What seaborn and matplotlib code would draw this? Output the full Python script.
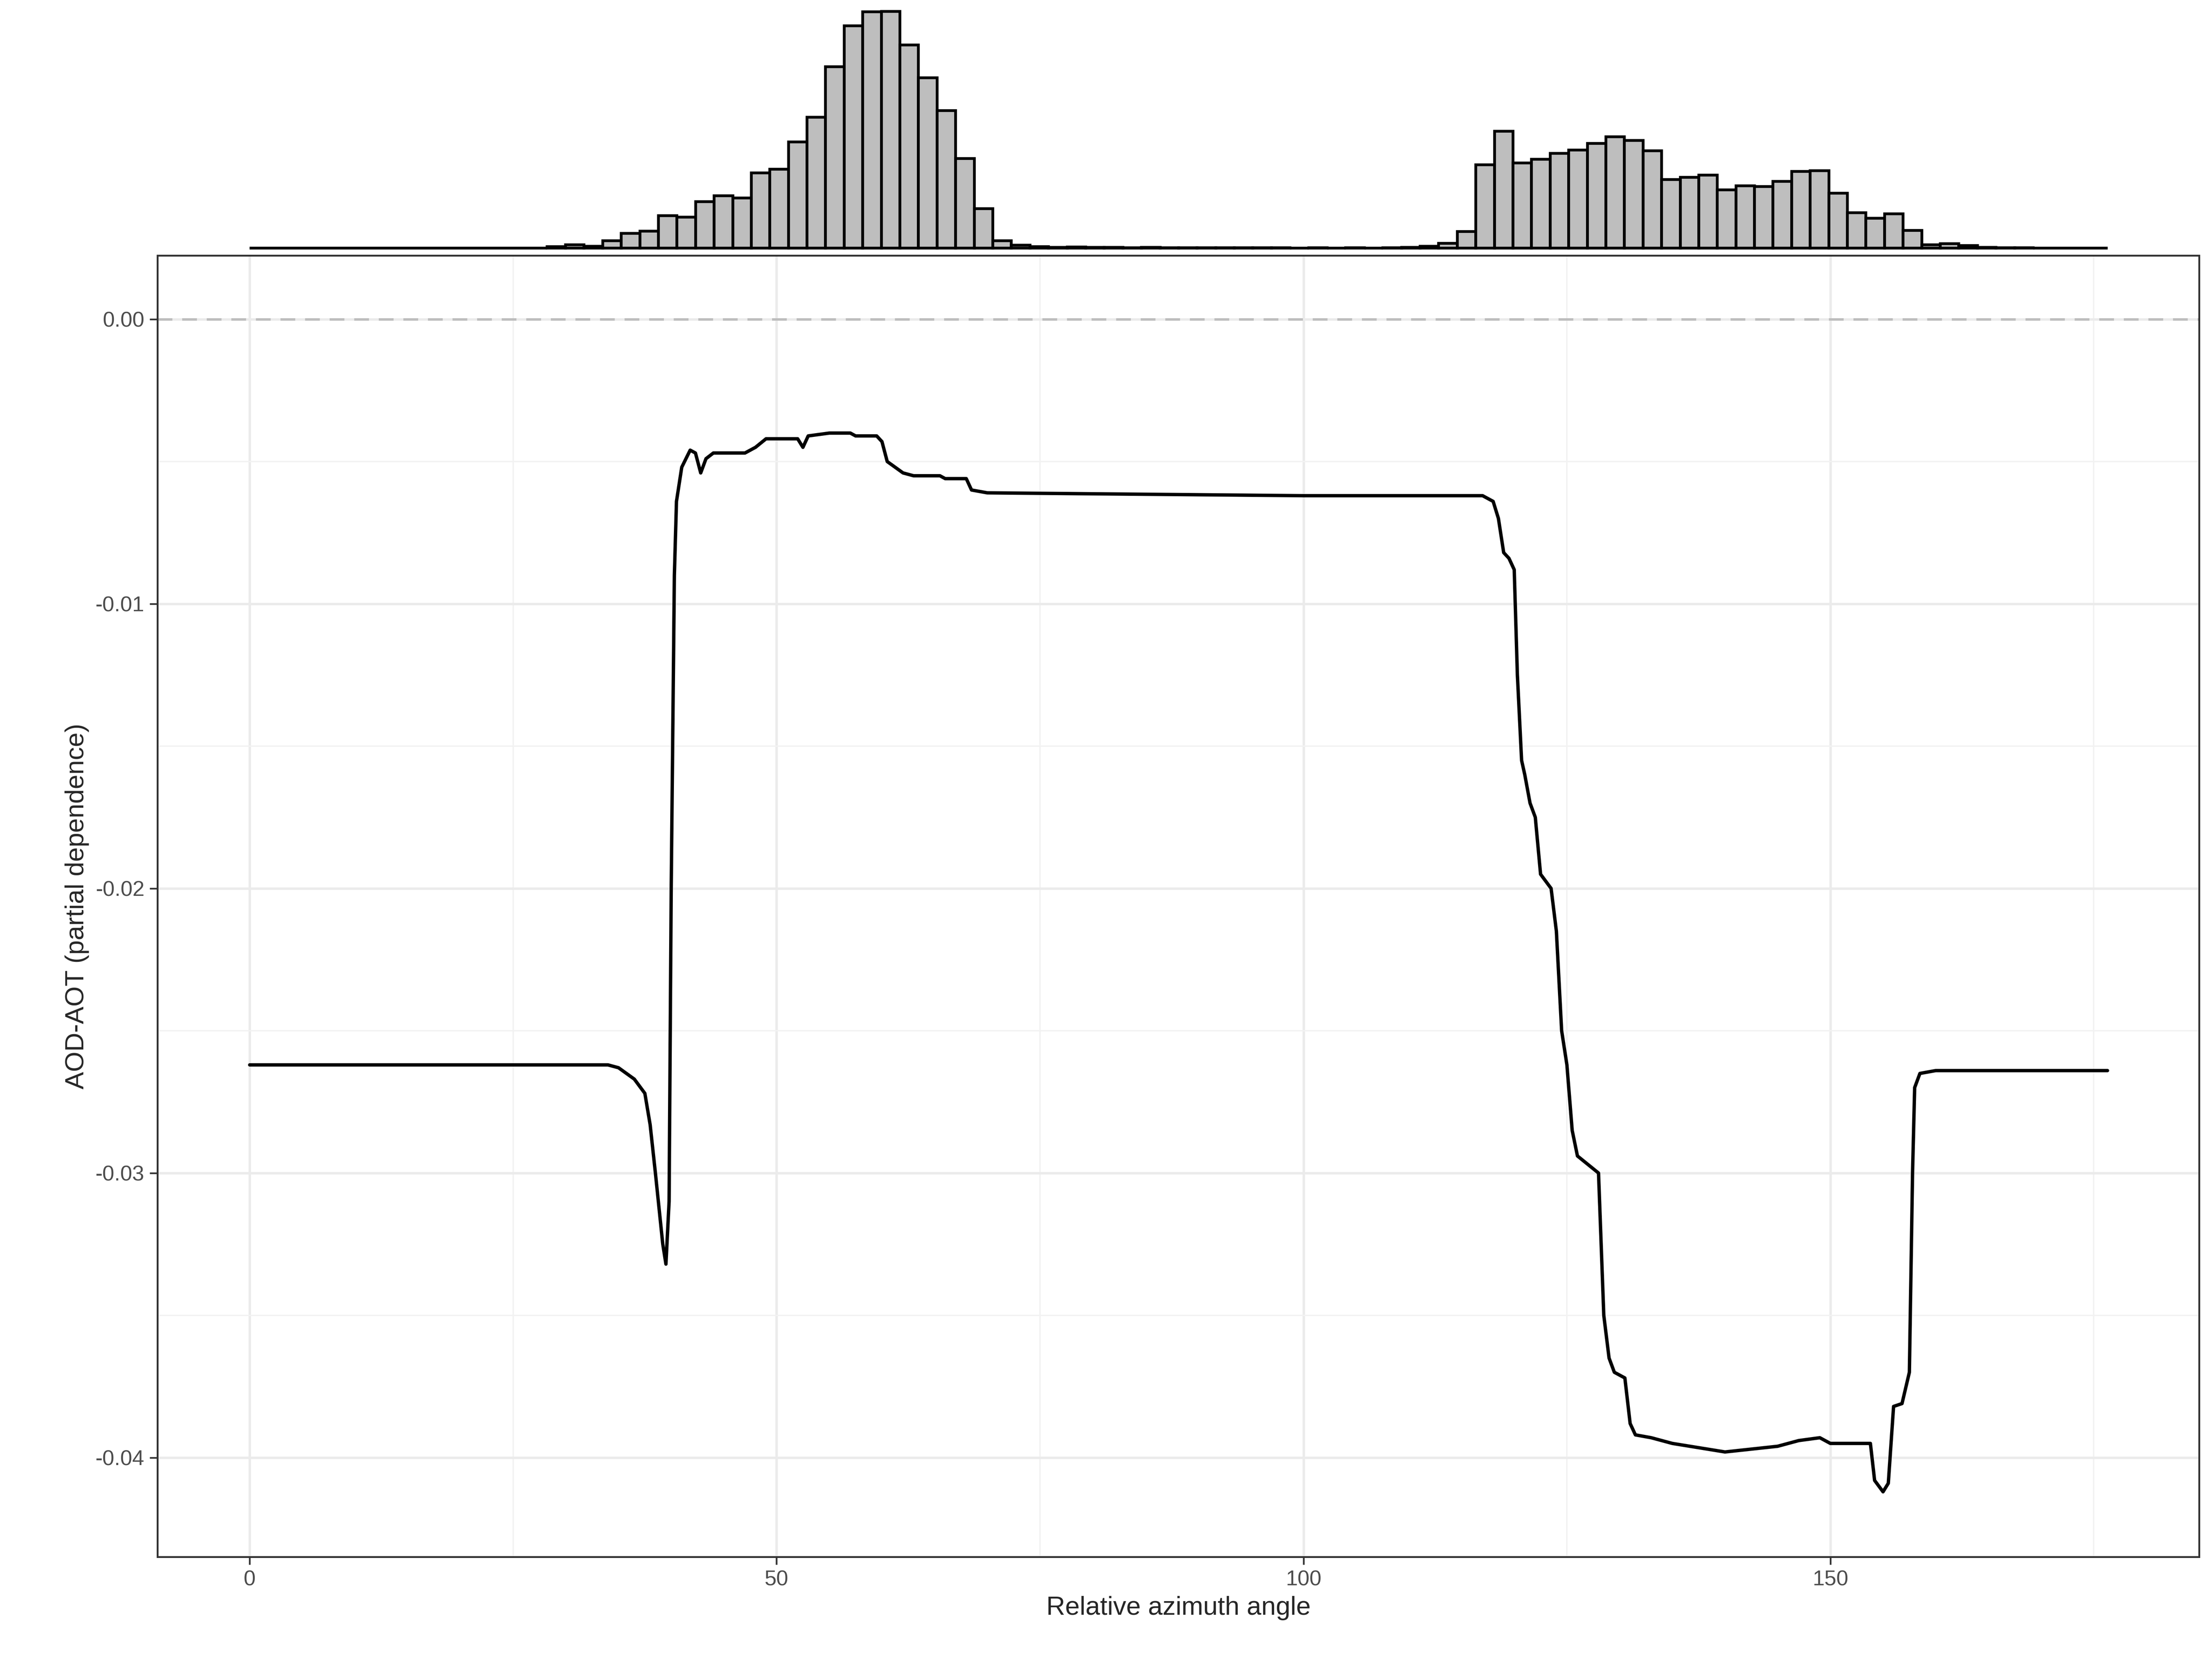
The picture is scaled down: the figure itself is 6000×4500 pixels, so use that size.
import numpy as np
import pandas as pd
import matplotlib
matplotlib.use("Agg")
import matplotlib.pyplot as plt
import seaborn as sns

# partial dependence curve
angle = [0, 34, 35, 36.5, 37.5, 38.0, 38.5, 39.2, 39.5, 39.8, 40.0, 40.3, 40.5, 41, 41.8,
         42.3, 42.8, 43.3, 44, 47, 48, 49, 52, 52.5, 53, 55, 57, 57.5, 59.5, 60, 60.5, 62,
         63, 65.5, 66, 68, 68.5, 70, 100, 117, 118, 118.5, 119, 119.5, 120, 120.3, 120.7,
         121, 121.5, 122, 122.5, 123.5, 124, 124.5, 125, 125.5, 126, 127, 128, 128.5, 129,
         129.5, 130.5, 131, 131.5, 133, 135, 140, 145, 147, 149, 150, 153, 153.8, 154.2,
         155, 155.5, 156, 156.8, 157.5, 157.8, 158, 158.5, 160, 176.3]
pd_value = [-0.0262, -0.0262, -0.0263, -0.0267, -0.0272, -0.0283, -0.0300, -0.0325, -0.0332,
            -0.0310, -0.0200, -0.0090, -0.0064, -0.0052, -0.0046, -0.0047, -0.0054, -0.0049,
            -0.0047, -0.0047, -0.0045, -0.0042, -0.0042, -0.0045, -0.0041, -0.0040, -0.0040,
            -0.0041, -0.0041, -0.0043, -0.0050, -0.0054, -0.0055, -0.0055, -0.0056, -0.0056,
            -0.0060, -0.0061, -0.0062, -0.0062, -0.0064, -0.0070, -0.0082, -0.0084, -0.0088,
            -0.0125, -0.0155, -0.0160, -0.0170, -0.0175, -0.0195, -0.0200, -0.0215, -0.0250,
            -0.0262, -0.0285, -0.0294, -0.0297, -0.0300, -0.0350, -0.0365, -0.0370, -0.0372,
            -0.0388, -0.0392, -0.0393, -0.0395, -0.0398, -0.0396, -0.0394, -0.0393, -0.0395,
            -0.0395, -0.0395, -0.0408, -0.0412, -0.0409, -0.0382, -0.0381, -0.0370, -0.0300,
            -0.0270, -0.0265, -0.0264, -0.0264]

# marginal histogram: 100 bins from 0 to 176.3
n_bins = 100
bin_counts = [0] * n_bins
bin_counts[16:43] = [4, 9, 5, 20, 40, 46, 87, 83, 125, 141, 135, 203, 213, 286, 353, 489,
                     600, 637, 638, 548, 459, 371, 242, 106, 20, 8, 4]
bin_counts[43:63] = [2, 3, 2, 2, 1, 2, 1, 1, 1, 1, 1, 1, 1, 0, 1, 0, 1, 0, 1, 2]
bin_counts[63:93] = [5, 13, 45, 225, 315, 230, 240, 255, 264, 282, 300, 290, 262, 185, 191,
                     197, 157, 168, 166, 180, 207, 209, 148, 95, 80, 92, 48, 9, 12, 7]
bin_counts[93:96] = [2, 1, 1]

x_max = 176.3
bin_w = x_max / n_bins
hist_df = pd.DataFrame({"x": (np.arange(n_bins) + 0.5) * bin_w, "w": bin_counts})
line_df = pd.DataFrame({"angle": angle, "value": pd_value})

sns.set_theme(style="white")
plt.rcParams["font.family"] = ["Liberation Sans", "DejaVu Sans"]

fig = plt.figure(figsize=(20, 15), dpi=300)
ax = fig.add_axes([0.0712, 0.0615, 0.923, 0.7845])
axh = fig.add_axes([0.0712, 0.8496, 0.923, 0.1461])

xlim = (-8.75, 185)

# main panel
sns.lineplot(data=line_df, x="angle", y="value", color="black", linewidth=2.2, ax=ax)
ax.axhline(0, color="#bdbdbd", linestyle=(0, (6, 4)), linewidth=1.6, zorder=1)
ax.set_xlim(xlim)
ax.set_ylim(-0.04349, 0.00224)
ax.set_xticks([0, 50, 100, 150])
ax.set_xticks([25, 75, 125, 175], minor=True)
ax.set_yticks([0, -0.01, -0.02, -0.03, -0.04])
ax.set_yticklabels(["0.00", "-0.01", "-0.02", "-0.03", "-0.04"])
ax.set_yticks([-0.005, -0.015, -0.025, -0.035], minor=True)
ax.grid(which="major", color="#ebebeb", linewidth=1.6)
ax.grid(which="minor", color="#f2f2f2", linewidth=0.9)
ax.set_axisbelow(True)
for s in ax.spines.values():
    s.set_color("#333333")
    s.set_linewidth(1.2)
ax.tick_params(axis="both", which="major", length=5, width=1.1, color="#333333",
               labelsize=14, labelcolor="#4d4d4d", bottom=True, left=True)
ax.tick_params(which="minor", length=0)
ax.set_xlabel("Relative azimuth angle", fontsize=17)
ax.set_ylabel("AOD-AOT (partial dependence)", fontsize=17)

# marginal histogram
sns.histplot(data=hist_df, x="x", weights="w", binwidth=bin_w, binrange=(0, x_max),
             color="#bebebe", alpha=1, edgecolor="black", linewidth=1.8, ax=axh)
axh.set_xlim(xlim)
axh.set_ylim(-4, 650)
axh.axis("off")

fig.savefig("out.png", dpi=300)
